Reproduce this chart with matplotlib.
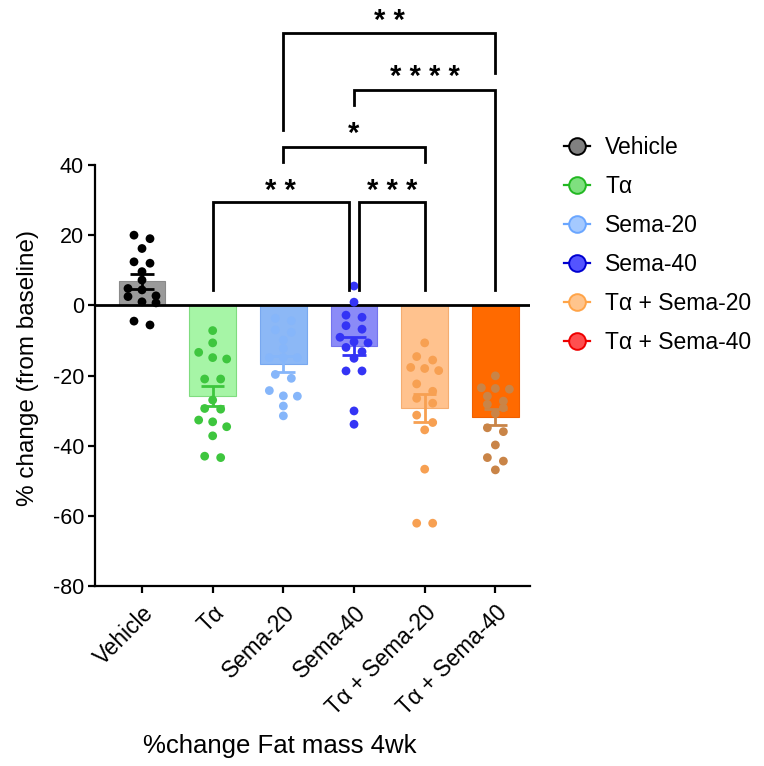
import numpy as np
import matplotlib
matplotlib.use("Agg")
import matplotlib.pyplot as plt
from matplotlib.lines import Line2D

plt.rcParams['font.family'] = ['Liberation Sans', 'DejaVu Sans']
plt.rcParams['axes.unicode_minus'] = False

# ---- data: % change in fat mass after 4 weeks ----
groups = ["Vehicle", "Tα", "Sema-20", "Sema-40", "Tα + Sema-20", "Tα + Sema-40"]
vehicle = [19.0, 20.0, 16.2, 12.4, 12.0, 9.6, 7.2, 4.8, 4.4, 2.5, 2.7, 0.7, 1.0, -5.6, -4.5]
talpha = [-7.2, -10.7, -15.3, -14.9, -13.4, -21.0, -21.0, -27.0, -29.4, -29.6,
          -33.2, -32.7, -34.6, -37.2, -43.4, -43.0]
sema20 = [-3.7, -4.4, -7.7, -7.0, -9.9, -12.3, -14.9, -14.9, -14.9, -20.8,
          -19.7, -25.8, -24.3, -25.9, -28.7, -31.5]
sema40 = [5.5, 0.9, -3.4, -2.8, -6.8, -5.8, -9.1, -10.4, -10.7, -12.0,
          -15.1, -13.2, -18.7, -18.7, -30.1, -33.9]
talpha_sema20 = [-10.7, -15.6, -18.0, -14.6, -17.7, -18.6, -22.4, -26.5, -24.5,
                 -27.9, -31.3, -33.4, -35.5, -46.7, -62.1, -62.1]
talpha_sema40 = [-20.1, -23.7, -23.9, -23.5, -25.9, -28.2, -27.3, -29.2, -30.8,
                 -36.0, -34.9, -39.8, -43.4, -44.4, -46.9]
series = [vehicle, talpha, sema20, sema40, talpha_sema20, talpha_sema40]

# pairwise comparisons (group index a, group index b, label)
comparisons = [(1, 3, "* *"), (3, 4, "* * *"), (2, 4, "*"), (3, 5, "* * * *"), (2, 5, "* *")]

y_ticks = [-80, -60, -40, -20, 0, 20, 40]

# ---- styling ----
bar_colors = ["#9a9a9a", "#a6f5a6", "#8cb8f6", "#8b8bf7", "#ffc28e", "#ff6a00"]
bar_edges = ["#8a8a8a", "#7fdc7f", "#78a8f0", "#7474ee", "#f5ad70", "#f06000"]
pt_colors = ["#000000", "#3ec63e", "#86b6fa", "#3434f5", "#f7a052", "#c98447"]
leg_faces = ["#808080", "#7fe07f", "#a4c9ff", "#5454ff", "#ffc48c", "#ff4f4f"]
leg_edges = ["#000000", "#22b822", "#6aa6ff", "#0000d0", "#ffa448", "#ee0000"]

W, H = 764, 766
fig = plt.figure(figsize=(W / 100, H / 100), dpi=100)
ax_l, ax_r, ax_t, ax_b = 95, 530, 165, 586
ax = fig.add_axes([ax_l / W, 1 - ax_b / H, (ax_r - ax_l) / W, (ax_b - ax_t) / H])

x = np.arange(len(groups))
xlim = (-0.665, 5.49)
ylim = (-80, 40)
ax.set_xlim(*xlim)
ax.set_ylim(*ylim)

px_per_x = (ax_r - ax_l) / (xlim[1] - xlim[0])
px_per_y = (ax_b - ax_t) / (ylim[1] - ylim[0])

# symmetric horizontal offsets (pixels) for a row holding n points
ROW_OFFSETS = {1: [0.0], 2: [-8.0, 8.0], 3: [-14.0, 0.0, 14.0],
               4: [-19.5, -6.5, 6.5, 19.5], 5: [-20.0, -10.0, 0.0, 10.0, 20.0]}


def scatter_offsets(vals, row_px=7.5):
    """Group points whose markers would overlap into rows and spread each row."""
    vals = np.asarray(vals, float)
    order = list(np.argsort(-vals))
    offs = np.zeros(len(vals))
    while order:
        first = order[0]
        row = [i for i in order if (vals[first] - vals[i]) * px_per_y < row_px]
        row = row[:5]
        for j, i in enumerate(row):
            offs[i] = ROW_OFFSETS[len(row)][j]
        order = [i for i in order if i not in row]
    return offs / px_per_x


bar_w = 0.66
cap_half = 0.165
for i, vals in enumerate(series):
    v = np.asarray(vals, float)
    mean = v.mean()
    sem = v.std(ddof=1) / np.sqrt(len(v))
    ax.bar(x[i], mean, width=bar_w, color=bar_colors[i], edgecolor=bar_edges[i],
           linewidth=0.8, zorder=1)
    ax.scatter(x[i] + scatter_offsets(v), v, s=40, color=pt_colors[i],
               edgecolors='none', zorder=3)
    ax.plot([x[i], x[i]], [mean - sem, mean + sem], color=pt_colors[i], lw=2, zorder=4,
            solid_capstyle='butt')
    for yy in (mean - sem, mean + sem):
        ax.plot([x[i] - cap_half, x[i] + cap_half], [yy, yy], color=pt_colors[i], lw=2,
                zorder=4, solid_capstyle='butt')

ax.axhline(0, color='black', lw=2, zorder=2.5)

for side in ('top', 'right'):
    ax.spines[side].set_visible(False)
for side in ('left', 'bottom'):
    ax.spines[side].set_linewidth(1.6)

ax.set_yticks(y_ticks)
ax.set_xticks(x)
ax.set_xticklabels(groups, rotation=45, ha='right', rotation_mode='anchor')
ax.tick_params(axis='both', direction='out', length=5, width=1.6, labelsize=15.5)
ax.tick_params(axis='x', pad=6, labelsize=16.3)
ax.tick_params(axis='y', pad=3)

# significance brackets: (bar height, left leg bottom, right leg bottom, text height)
bracket_layout = [(29.4, 4.5, 4.5, 28.6), (29.4, 4.5, 4.5, 28.6), (45.2, 40.8, 40.8, 44.8),
                  (61.4, 57.1, 4.5, 61.1), (77.5, 50.0, 66.3, 77.05)]
leg_shift = [(0, -0.075), (0.075, 0), (0, 0), (0, 0), (0, 0)]
for (a, b, lab), (yb, ya0, yb0, yt), (da, db) in zip(comparisons, bracket_layout, leg_shift):
    xa, xb = x[a] + da, x[b] + db
    ax.plot([xa, xa, xb, xb], [ya0, yb, yb, yb0], color='black', lw=2,
            clip_on=False, solid_joinstyle='miter', zorder=5)
    ax.text((xa + xb) / 2, yt, lab, ha='center', va='bottom', fontsize=21,
            fontweight='bold', clip_on=False)

fig.text(28 / W, 1 - 368 / H, "% change (from baseline)", rotation=90,
         ha='center', va='center', fontsize=17.5)
fig.text(280 / W, 1 - 746 / H, "%change Fat mass 4wk", ha='center', va='center',
         fontsize=18.5)

handles = [Line2D([0], [0], color=leg_edges[i], lw=1.6, marker='o', markersize=12,
                  markerfacecolor=leg_faces[i], markeredgecolor=leg_edges[i],
                  markeredgewidth=1.4) for i in range(len(groups))]
fig.legend(handles, groups, loc='upper left', bbox_to_anchor=(564 / W, 1 - 136 / H),
           frameon=False, fontsize=16.5, handlelength=1.15, handletextpad=0.65,
           labelspacing=0.7, borderpad=0, borderaxespad=0)

fig.savefig("out.png", dpi=100)
